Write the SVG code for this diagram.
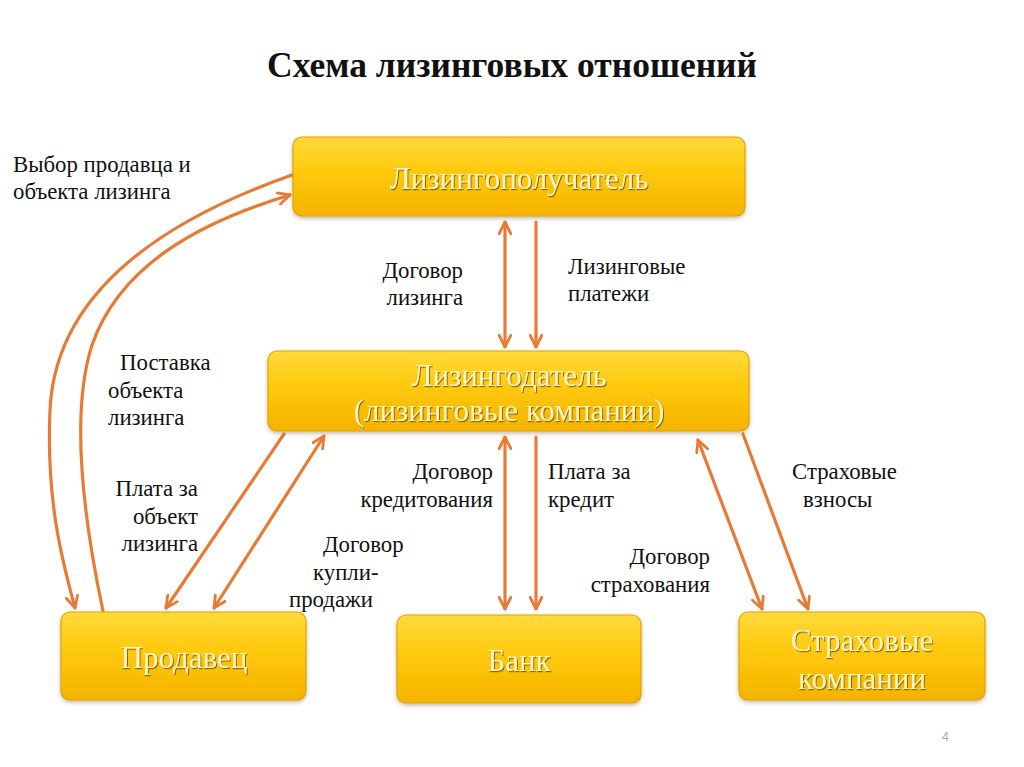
<svg xmlns="http://www.w3.org/2000/svg" width="1024" height="767" viewBox="0 0 1024 767">
<defs>
<linearGradient id="gold" x1="0" y1="0" x2="0" y2="1">
<stop offset="0" stop-color="#FFDA3C"/>
<stop offset="0.45" stop-color="#FFC90A"/>
<stop offset="1" stop-color="#F4B300"/>
</linearGradient>
<filter id="boxsh" x="-10%" y="-20%" width="120%" height="150%">
<feDropShadow dx="0" dy="2" stdDeviation="2" flood-color="#7a6a40" flood-opacity="0.45"/>
</filter>
<filter id="txtsh" x="-10%" y="-30%" width="120%" height="160%">
<feDropShadow dx="1" dy="1.2" stdDeviation="0.6" flood-color="#7a5a00" flood-opacity="0.9"/>
</filter>
<marker id="ah" viewBox="0 0 12 12" refX="11" refY="6" markerWidth="14" markerHeight="14" markerUnits="userSpaceOnUse" orient="auto-start-reverse">
<path d="M1,1 L11,6 L1,11" fill="none" stroke="#E77B36" stroke-width="2.4" stroke-linecap="round" stroke-linejoin="round"/>
</marker>
</defs>
<style>
.box{fill:url(#gold);stroke:#E2A400;stroke-width:1.2;filter:url(#boxsh);}
.bt{font-family:"Liberation Serif","DejaVu Serif",serif;font-size:31px;fill:#FFF4BE;text-anchor:middle;filter:url(#txtsh);}
.lbl{font-family:"Liberation Serif","DejaVu Serif",serif;font-size:22.8px;fill:#111;}
.r{text-anchor:end;}
.c{fill:none;stroke:#E77B36;stroke-width:3.2;stroke-linecap:round;}
</style>
<rect width="1024" height="767" fill="#ffffff"/>
<text x="512" y="77" text-anchor="middle" font-family="'Liberation Serif','DejaVu Serif',serif" font-size="35.5" font-weight="bold" fill="#111">Схема лизинговых отношений</text>

<g id="connectors">
<line class="c" x1="505" y1="222" x2="505" y2="347" marker-start="url(#ah)" marker-end="url(#ah)"/>
<line class="c" x1="536" y1="222" x2="536" y2="347" marker-end="url(#ah)"/>
<line class="c" x1="505" y1="437" x2="505" y2="609" marker-start="url(#ah)" marker-end="url(#ah)"/>
<line class="c" x1="536" y1="437" x2="536" y2="609" marker-end="url(#ah)"/>
<path class="c" d="M292,175 C150,225 55,300 50,410 C46,500 62,560 75,608" marker-end="url(#ah)"/>
<path class="c" d="M103,611 C88,540 68,420 92,345 C120,265 200,222 290,195" marker-end="url(#ah)"/>
<line class="c" x1="284" y1="434" x2="166" y2="608" marker-end="url(#ah)"/>
<line class="c" x1="324" y1="436" x2="214" y2="608" marker-start="url(#ah)" marker-end="url(#ah)"/>
<line class="c" x1="698" y1="440" x2="762" y2="609" marker-start="url(#ah)" marker-end="url(#ah)"/>
<line class="c" x1="743" y1="434" x2="808" y2="609" marker-end="url(#ah)"/>
</g>

<g id="lessee">
<rect class="box" x="293" y="137" width="452" height="79" rx="9"/>
<text class="bt" x="519" y="189">Лизингополучатель</text>
</g>
<g id="lessor">
<rect class="box" x="268" y="351" width="481" height="80" rx="9"/>
<text class="bt" x="509" y="386">Лизингодатель</text>
<text class="bt" x="509" y="421">(лизинговые компании)</text>
</g>
<g id="seller">
<rect class="box" x="61" y="612" width="245" height="88" rx="9"/>
<text class="bt" x="184" y="668">Продавец</text>
</g>
<g id="bank">
<rect class="box" x="397" y="615" width="244" height="88" rx="9"/>
<text class="bt" x="519" y="671">Банк</text>
</g>
<g id="insurance">
<rect class="box" x="739" y="612" width="246" height="88" rx="9"/>
<text class="bt" x="862" y="651">Страховые</text>
<text class="bt" x="862" y="689">компании</text>
</g>

<g id="labels">
<text class="lbl" x="13" y="172">Выбор продавца и</text>
<text class="lbl" x="13" y="199">объекта лизинга</text>
<text class="lbl r" x="463" y="278">Договор</text>
<text class="lbl r" x="463" y="305">лизинга</text>
<text class="lbl" x="568" y="274">Лизинговые</text>
<text class="lbl" x="568" y="301">платежи</text>
<text class="lbl" x="120" y="370">Поставка</text>
<text class="lbl" x="108" y="398">объекта</text>
<text class="lbl" x="108" y="425">лизинга</text>
<text class="lbl r" x="198" y="496">Плата за</text>
<text class="lbl r" x="198" y="524">объект</text>
<text class="lbl r" x="198" y="551">лизинга</text>
<text class="lbl" x="323" y="552">Договор</text>
<text class="lbl" x="313" y="580">купли-</text>
<text class="lbl" x="289" y="607">продажи</text>
<text class="lbl r" x="493" y="479">Договор</text>
<text class="lbl r" x="493" y="507">кредитования</text>
<text class="lbl" x="548" y="479">Плата за</text>
<text class="lbl" x="548" y="507">кредит</text>
<text class="lbl r" x="710" y="564">Договор</text>
<text class="lbl r" x="710" y="592">страхования</text>
<text class="lbl" x="792" y="479">Страховые</text>
<text class="lbl" x="803" y="507">взносы</text>
<text x="942" y="741" font-family="'Liberation Sans','DejaVu Sans',sans-serif" font-size="12" fill="#aaaaaa">4</text>
</g>
</svg>
